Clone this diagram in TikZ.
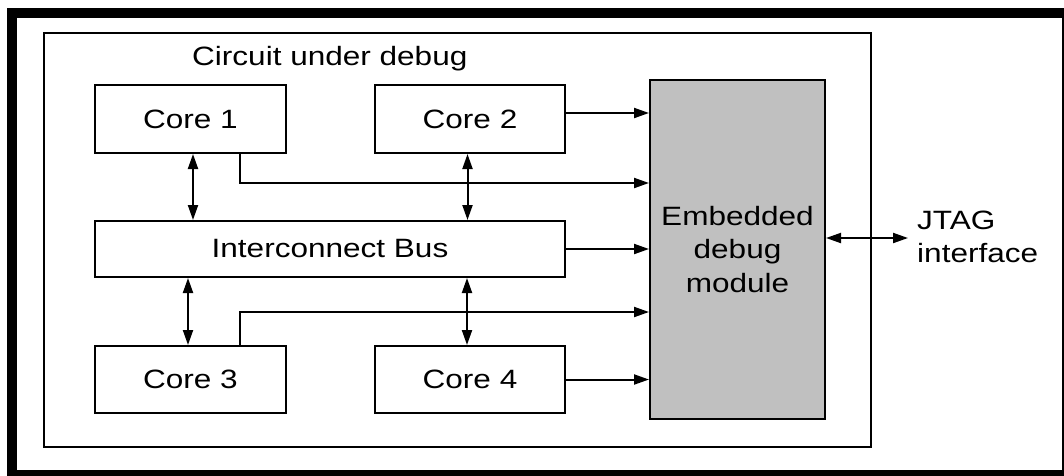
\documentclass[tikz,border=0pt]{standalone}
\usepackage{fontspec}
\setmainfont{Liberation Sans}[FakeStretch=1.19]
\usetikzlibrary{arrows.meta,calc}
\definecolor{edmgray}{HTML}{C0C0C0}
\begin{document}
\begin{tikzpicture}[x=1pt,y=-1pt,
  lbl/.style={font=\fontsize{26.5}{33.5}\selectfont, inner sep=0pt},
  box/.style={draw=black, line width=2pt, inner sep=0pt, font=\fontsize{26.5}{33.5}\selectfont},
  tipa/.tip={Triangle[length=15pt,width=10pt]},
  conn/.style={line width=2pt, -tipa},
  bi/.style={line width=2pt, tipa-tipa}]
\useasboundingbox (0,0) rectangle (1064,475);
\fill[white] (0,0) rectangle (1064,475);
% outer frame
\draw[line width=10pt] (12,12.5) rectangle (1067,475);
% circuit under debug
\node[draw=black, line width=2pt, minimum width=827pt, minimum height=414pt, inner sep=0pt] (cud) at (457.5,240) {};
\node[lbl, anchor=base west] (title) at (192,65) {Circuit under debug};
% cores
\node[box, minimum width=191pt, minimum height=68pt] (c1) at (190.5,119) {Core 1};
\node[box, minimum width=190pt, minimum height=68pt] (c2) at (470,119) {Core 2};
\node[box, minimum width=470pt, minimum height=56pt] (bus) at (330,249) {Interconnect Bus};
\node[box, minimum width=191pt, minimum height=67pt] (c3) at (190.5,379.5) {Core 3};
\node[box, minimum width=190pt, minimum height=67pt] (c4) at (470,379.5) {Core 4};
\node[box, fill=edmgray, align=center, minimum width=175pt, minimum height=339pt] (edm) at (737.5,249.5) {Embedded\\debug\\module};
\node[lbl, anchor=west, align=left] (jtag) at (917,237) {JTAG\\interface};
% coordinates
\coordinate (k1) at (240,183);
\coordinate (k2) at (600,113);
\coordinate (k3) at (240,312);
\coordinate (j) at (908,238);
% bidirectional bus links
\draw[bi] ([xshift=2.5pt]c1.south) -- ([xshift=2.5pt]c1.south |- bus.north);
\draw[bi] ([xshift=-2.5pt]c2.south) -- ([xshift=-2.5pt]c2.south |- bus.north);
\draw[bi] ([xshift=-2.5pt]c3.north |- bus.south) -- ([xshift=-2.5pt]c3.north);
\draw[bi] ([xshift=-3pt]c4.north |- bus.south) -- ([xshift=-3pt]c4.north);
% links to debug module
\draw[conn] (c2.east |- k2) -- (edm.west |- k2);
\draw[conn] (c1.south -| k1) |- (edm.west |- k1);
\draw[conn] (bus.east) -- (edm.west |- bus.east);
\draw[conn] (c3.north -| k3) |- (edm.west |- k3);
\draw[conn] (c4.east) -- (edm.west |- c4.east);
\draw[bi] (edm.east |- j) -- (j);
\end{tikzpicture}
\end{document}
